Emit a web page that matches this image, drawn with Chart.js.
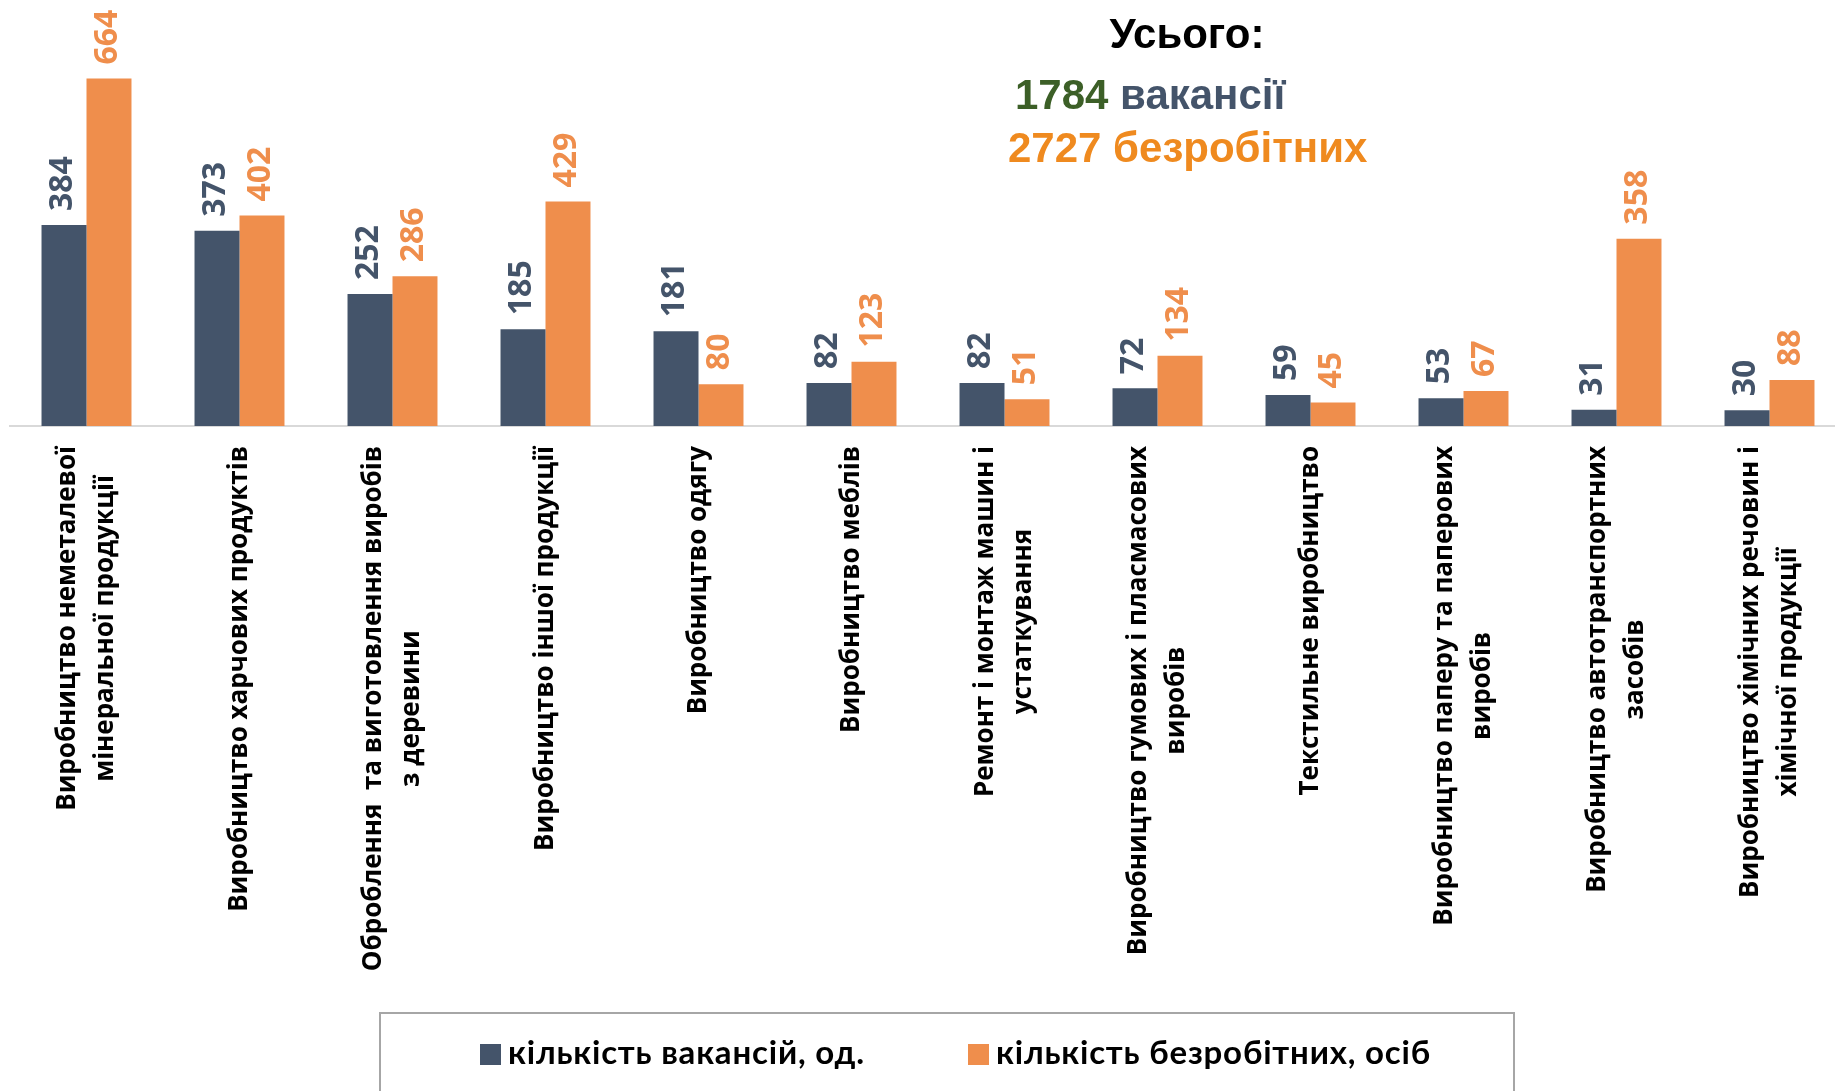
<!DOCTYPE html>
<html lang="uk">
<head>
<meta charset="utf-8">
<title>Вакансії та безробітні</title>
<script src="https://cdn.jsdelivr.net/npm/chart.js@4.4.1/dist/chart.umd.min.js"></script>
<style>
  html, body { margin: 0; padding: 0; background: #fff; overflow: hidden; }
  #wrap { position: relative; width: 1835px; height: 1091px; overflow: hidden; }
  #chart-box { position: absolute; left: 0; top: 0; width: 1846px; height: 1091px; }
  .total { position: absolute; font-family: "Liberation Sans", Arial, sans-serif; font-weight: 700; white-space: nowrap; line-height: 1; }
  #legend { position: absolute; left: 379px; top: 1012px; width: 1136px; height: 120px; border: 2px solid #a6a6a6; box-sizing: border-box; }
  .lg-item { position: absolute; top: 21px; font-family: Lato, sans-serif; font-weight: 700; font-size: 33px; letter-spacing: 0.8px; line-height: 1; color: #000; white-space: nowrap; }
  .lg-item i { display: inline-block; width: 21px; height: 21px; margin-right: 7px; vertical-align: -1px; }
</style>
</head>
<body>
<div id="wrap">
  <div id="chart-box"><canvas id="chart"></canvas></div>

  <div class="total" style="left:1087px; width:200px; text-align:center; top:13px; font-size:42px; color:#000;">Усього:</div>
  <div class="total" style="left:1015px; top:74px; font-size:42px;"><span style="color:#3c5f27">1784</span> <span style="color:#44546a">вакансії</span></div>
  <div class="total" style="left:1008px; top:127px; font-size:42px; color:#ef8a1f;">2727 безробітних</div>

  <div id="legend">
    <div class="lg-item" style="left:99px;"><i style="background:#44546a"></i>кількість вакансій, од.</div>
    <div class="lg-item" style="left:587px;"><i style="background:#ef8e4c"></i>кількість безробітних, осіб</div>
  </div>
</div>

<script>
// категорії (підписи в рядках)
const categories = [
  ["Виробництво неметалевої", "мінеральної продукції"],
  ["Виробництво харчових продуктів"],
  ["Оброблення  та виготовлення виробів", "з деревини"],
  ["Виробництво іншої продукції"],
  ["Виробництво одягу"],
  ["Виробництво меблів"],
  ["Ремонт і монтаж машин і", "устаткування"],
  ["Виробництво гумових і пласмасових", "виробів"],
  ["Текстильне виробництво"],
  ["Виробництво паперу та паперових", "виробів"],
  ["Виробництво автотранспортних", "засобів"],
  ["Виробництво хімічних речовин і", "хімічної продукції"]
];
const vacancies = [384, 373, 252, 185, 181, 82, 82, 72, 59, 53, 31, 30];
const unemployed = [664, 402, 286, 429, 80, 123, 51, 134, 45, 67, 358, 88];
const seriesNames = ["кількість вакансій, од.", "кількість безробітних, осіб"];

const DARK = "#44546a";
const ORANGE = "#ef8e4c";

// значення над стовпчиками, повернуті на 90°
const valueLabels = {
  id: "valueLabels",
  afterDatasetsDraw(chart) {
    const ctx = chart.ctx;
    ctx.save();
    ctx.font = '700 32px "Open Sans"';
    ctx.textAlign = "left";
    ctx.textBaseline = "middle";
    chart.data.datasets.forEach((ds, di) => {
      ctx.fillStyle = ds.backgroundColor;
      chart.getDatasetMeta(di).data.forEach((bar, i) => {
        ctx.save();
        ctx.translate(bar.x - 1, bar.y - 14);
        ctx.rotate(-Math.PI / 2);
        ctx.fillText(String(ds.data[i]), 0, 0);
        ctx.restore();
      });
    });
    ctx.restore();
  }
};

// підписи категорій: вертикально, рядки по центру
const categoryLabels = {
  id: "categoryLabels",
  afterDraw(chart) {
    const ctx = chart.ctx;
    const xs = chart.scales.x;
    const top = chart.chartArea.bottom + 20;
    const lineH = 38;
    ctx.save();
    ctx.font = '700 26px "Open Sans"';
    ctx.fillStyle = "#000";
    ctx.textAlign = "center";
    ctx.textBaseline = "middle";
    categories.forEach((lines, i) => {
      const x = xs.getPixelForValue(i);
      const w = Math.max(...lines.map(l => ctx.measureText(l).width));
      ctx.save();
      ctx.translate(x, top);
      ctx.rotate(-Math.PI / 2);
      lines.forEach((l, j) => ctx.fillText(l, -w / 2, (j - (lines.length - 1) / 2) * lineH));
      ctx.restore();
    });
    ctx.restore();
  }
};

new Chart(document.getElementById("chart"), {
  type: "bar",
  data: {
    labels: categories,
    datasets: [
      { label: seriesNames[0], data: vacancies, backgroundColor: DARK },
      { label: seriesNames[1], data: unemployed, backgroundColor: ORANGE }
    ]
  },
  options: {
    responsive: true,
    maintainAspectRatio: false,
    animation: false,
    layout: { padding: { left: 10, right: 0, top: 0, bottom: 665 } },
    datasets: { bar: { categoryPercentage: 0.588, barPercentage: 1 } },
    plugins: { legend: { display: false }, tooltip: { enabled: false } },
    scales: {
      x: {
        grid: { display: false, drawTicks: false },
        ticks: { display: false },
        border: { display: true, color: "#d9d9d9", width: 2 }
      },
      y: { display: false, min: 0, max: 814 }
    }
  },
  plugins: [valueLabels, categoryLabels]
});
</script>
</body>
</html>
